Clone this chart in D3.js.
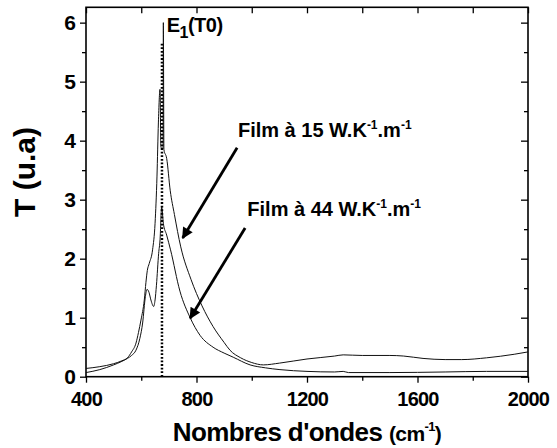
<!DOCTYPE html>
<html>
<head>
<meta charset="utf-8">
<script src="https://cdn.jsdelivr.net/npm/d3@7"></script>
<style>
  body { margin: 0; background: #fff; }
  text { font-family: "Liberation Sans", Arial, sans-serif; font-weight: bold; fill: #000; }
</style>
</head>
<body>
<svg id="chart" width="557" height="448"></svg>
<script>
// film a 15 W/K/m
var wn15 = [400, 450, 500, 530, 550, 565, 581, 590, 599, 611, 617, 622, 629, 641, 650, 657, 662, 668, 671, 676, 679, 680, 682, 692, 705, 720, 743, 780, 820, 860, 900, 921, 960, 1000, 1042, 1100, 1200, 1300, 1331, 1400, 1500, 1550, 1620, 1700, 1760, 1850, 1950, 2000];
var t15  = [0.14, 0.17, 0.22, 0.27, 0.32, 0.42, 0.57, 0.75, 0.96, 1.3, 1.6, 1.8, 1.92, 2.15, 2.6, 3.4, 4.3, 4.87, 3.9, 3.85, 3.9, 6.0, 3.85, 3.7, 3.15, 2.75, 2.2, 1.65, 1.2, 0.85, 0.58, 0.45, 0.32, 0.24, 0.2, 0.23, 0.3, 0.35, 0.37, 0.36, 0.36, 0.35, 0.31, 0.29, 0.29, 0.32, 0.38, 0.42];
// film a 44 W/K/m
var wn44 = [400, 450, 500, 530, 550, 565, 581, 595, 605, 615, 621, 628, 635, 645, 650, 655, 663, 668, 674, 680, 692, 706, 740, 777, 813, 860, 900, 933, 994, 1050, 1102, 1200, 1300, 1331, 1350, 1500, 1700, 1850, 2000];
var t44  = [0.07, 0.12, 0.2, 0.26, 0.31, 0.36, 0.45, 0.65, 0.91, 1.36, 1.48, 1.43, 1.3, 1.19, 1.3, 1.55, 2.09, 2.32, 2.88, 2.6, 2.4, 2.15, 1.45, 1.0, 0.7, 0.5, 0.4, 0.33, 0.2, 0.15, 0.12, 0.09, 0.08, 0.09, 0.07, 0.07, 0.08, 0.09, 0.09];

var xTicks = [400, 800, 1200, 1600, 2000];
var xMinor = [600, 1000, 1400, 1800];
var yTicks = [0, 1, 2, 3, 4, 5, 6];
var yMinor = [0.5, 1.5, 2.5, 3.5, 4.5, 5.5];

var e1Pos = 675, e1Top = 5.65;

var box = {left: 86, right: 528, top: 7.3, bottom: 376.7};

var svg = d3.select("#chart");

var x = d3.scaleLinear().domain([400, 2000]).range([box.left, box.right]);
var y = d3.scaleLinear().domain([0, 6.26]).range([box.bottom, box.top]);

// axes
function styleAxis(g) {
  g.select(".domain").remove();
  g.selectAll("line").attr("stroke", "#000").attr("stroke-width", 1.3);
}

svg.append("g")
  .attr("transform", "translate(0," + box.bottom + ")")
  .call(d3.axisBottom(x).tickValues(xTicks).tickSize(6).tickPadding(9).tickFormat(d3.format("d")))
  .call(styleAxis)
  .selectAll("text").style("font-size", "20px").style("letter-spacing", "-0.8px");

svg.append("g")
  .attr("transform", "translate(0," + box.bottom + ")")
  .call(d3.axisBottom(x).tickValues(xMinor).tickSize(4).tickFormat(""))
  .call(styleAxis);

svg.append("g")
  .attr("transform", "translate(" + box.left + ",0)")
  .call(d3.axisLeft(y).tickValues(yTicks).tickSize(6).tickPadding(4).tickFormat(d3.format("d")))
  .call(styleAxis)
  .selectAll("text").style("font-size", "21px");

svg.append("g")
  .attr("transform", "translate(" + box.left + ",0)")
  .call(d3.axisLeft(y).tickValues(yMinor).tickSize(4).tickFormat(""))
  .call(styleAxis);

// mirror ticks, inside
svg.append("g")
  .attr("transform", "translate(0," + box.top + ")")
  .call(d3.axisTop(x).tickValues(xTicks.concat(xMinor)).tickSize(-6).tickFormat(""))
  .call(styleAxis);

svg.append("g")
  .attr("transform", "translate(" + box.right + ",0)")
  .call(d3.axisRight(y).tickValues(yTicks).tickSize(-7).tickFormat(""))
  .call(styleAxis);

svg.append("g")
  .attr("transform", "translate(" + box.right + ",0)")
  .call(d3.axisRight(y).tickValues(yMinor).tickSize(-4).tickFormat(""))
  .call(styleAxis);

svg.append("rect")
  .attr("x", box.left).attr("y", box.top)
  .attr("width", box.right - box.left).attr("height", box.bottom - box.top)
  .attr("fill", "none").attr("stroke", "#000").attr("stroke-width", 1.6);

// curves
var line = d3.line()
  .x(function(d) { return x(d[0]); })
  .y(function(d) { return y(d[1]); })
  .curve(d3.curveMonotoneX);

var series = [d3.zip(wn15, t15), d3.zip(wn44, t44)];

svg.selectAll(".curve")
  .data(series)
  .enter().append("path")
  .attr("class", "curve")
  .attr("d", line)
  .attr("fill", "none")
  .attr("stroke", "#111")
  .attr("stroke-width", 1);

// E1(T0) marker
svg.append("line")
  .attr("x1", x(e1Pos)).attr("x2", x(e1Pos))
  .attr("y1", y(0)).attr("y2", y(e1Top))
  .attr("stroke", "#000").attr("stroke-width", 2.5)
  .attr("stroke-dasharray", "1.8 1.8");

var e1 = svg.append("text")
  .attr("x", x(692)).attr("y", y(5.84))
  .style("font-size", "20px").style("letter-spacing", "-0.5px");
e1.append("tspan").text("E");
e1.append("tspan").attr("dy", 6).style("font-size", "16px").text("1");
e1.append("tspan").attr("dy", -6).text("(T0)");

// arrows
svg.append("defs").append("marker")
  .attr("id", "head")
  .attr("viewBox", "0 0 10 10")
  .attr("refX", 9).attr("refY", 5)
  .attr("markerWidth", 5).attr("markerHeight", 4)
  .attr("markerUnits", "strokeWidth")
  .attr("orient", "auto")
  .append("path").attr("d", "M0,0 L10,5 L0,10 Z").attr("fill", "#000");

var arrows = [
  {from: [947, 3.88], to: [750, 2.35]},
  {from: [976, 2.52], to: [777, 0.99]}
];

svg.selectAll(".arrow")
  .data(arrows)
  .enter().append("line")
  .attr("class", "arrow")
  .attr("x1", function(d) { return x(d.from[0]); })
  .attr("y1", function(d) { return y(d.from[1]); })
  .attr("x2", function(d) { return x(d.to[0]); })
  .attr("y2", function(d) { return y(d.to[1]); })
  .attr("stroke", "#000").attr("stroke-width", 2.8)
  .attr("marker-end", "url(#head)");

// film labels
var films = [
  {num: "15", pos: [950, 4.07]},
  {num: "44", pos: [984, 2.72]}
];

films.forEach(function(f) {
  var t = svg.append("text")
    .attr("x", x(f.pos[0])).attr("y", y(f.pos[1]))
    .style("font-size", "20px").style("letter-spacing", "0px");
  t.append("tspan").text("Film à " + f.num + " W.K");
  t.append("tspan").attr("dy", -8).style("font-size", "12px").text("-1");
  t.append("tspan").attr("dy", 8).text(".m");
  t.append("tspan").attr("dy", -8).style("font-size", "12px").text("-1");
});

// axis titles
var xt = svg.append("text")
  .attr("x", (box.left + box.right) / 2).attr("y", 441)
  .attr("text-anchor", "middle")
  .style("font-size", "26px").style("letter-spacing", "-0.6px");
xt.append("tspan").text("Nombres d'ondes ");
xt.append("tspan").style("font-size", "21px").text("(cm");
xt.append("tspan").attr("dy", -10).style("font-size", "13px").text("-1");
xt.append("tspan").attr("dy", 10).style("font-size", "21px").text(")");

svg.append("text")
  .attr("transform", "translate(35,172) rotate(-90)")
  .attr("text-anchor", "middle")
  .style("font-size", "30px")
  .text("T (u.a)");
</script>
</body>
</html>
